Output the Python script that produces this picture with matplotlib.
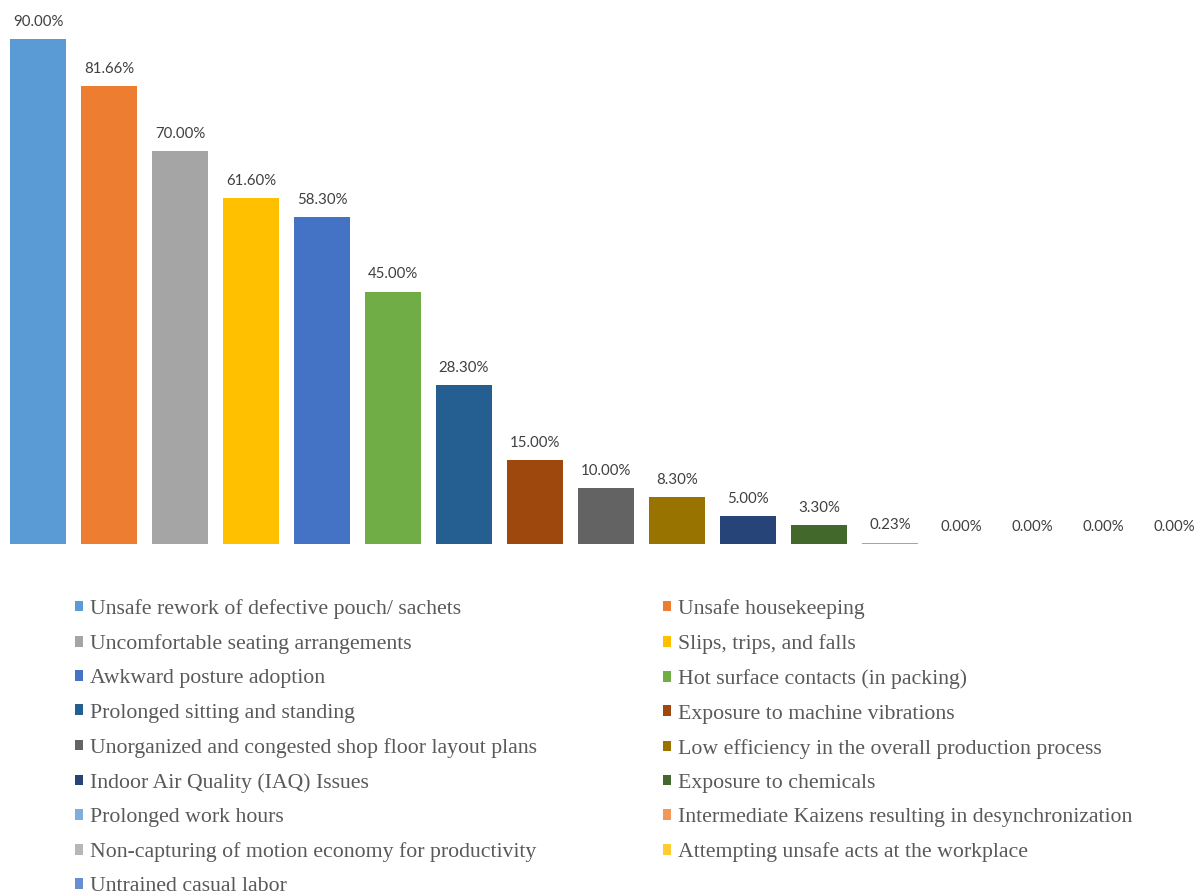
import numpy as np
import matplotlib.pyplot as plt
from matplotlib.patches import Patch

# data
hazards = [
    'Unsafe rework of defective pouch/ sachets',
    'Unsafe housekeeping',
    'Uncomfortable seating arrangements',
    'Slips, trips, and falls',
    'Awkward posture adoption',
    'Hot surface contacts (in packing)',
    'Prolonged sitting and standing',
    'Exposure to machine vibrations',
    'Unorganized and congested shop floor layout plans',
    'Low efficiency in the overall production process',
    'Indoor Air Quality (IAQ) Issues',
    'Exposure to chemicals',
    'Prolonged work hours',
    'Intermediate Kaizens resulting in desynchronization',
    'Non-capturing of motion economy for productivity',
    'Attempting unsafe acts at the workplace',
    'Untrained casual labor',
]
percent = [90.00, 81.66, 70.00, 61.60, 58.30, 45.00, 28.30, 15.00, 10.00,
           8.30, 5.00, 3.30, 0.23, 0.00, 0.00, 0.00, 0.00]
colors = ['#5B9BD5', '#ED7D31', '#A5A5A5', '#FFC000', '#4472C4', '#70AD47',
          '#255E91', '#9E480E', '#636363', '#997300', '#264478', '#43682B',
          '#7CAFDD', '#F1975A', '#B7B7B7', '#FFCD33', '#698ED0']

W, H = 1200, 893
fig = plt.figure(figsize=(W / 100, H / 100), dpi=100)

# plot area: baseline at y=544px, bars spaced 71px starting at x=38px
ax = fig.add_axes([0, (H - 544) / H, 1, 533 / H])
x = np.arange(len(percent))
ax.bar(x, percent, width=0.79, color=colors)
ax.set_xlim(-38 / 71, (W - 38) / 71)
ax.set_ylim(0, 533 / 5.611)
ax.axis('off')

for xi, v in zip(x, percent):
    ax.annotate('{:.2f}%'.format(v), (xi, v), xytext=(0, 12.4),
                textcoords='offset points', ha='center', va='center',
                fontsize=10.8, color='#404040', family='Lato')

# legend: Excel fills row-wise, so split into two columns
handles = [Patch(facecolor=c, edgecolor='none') for c in colors]
legend_kw = dict(loc='upper left', frameon=False, handlelength=0.37,
                 handleheight=0.37, handletextpad=0.32, labelspacing=0.7,
                 borderpad=0, borderaxespad=0, labelcolor='#595959',
                 prop={'family': 'Liberation Serif', 'size': 15.7})
leg1 = fig.legend(handles[0::2], hazards[0::2],
                  bbox_to_anchor=(75 / W, (H - 599) / H), **legend_kw)
leg2 = fig.legend(handles[1::2], hazards[1::2],
                  bbox_to_anchor=(663 / W, (H - 599) / H), **legend_kw)

fig.savefig('out.png', dpi=100, facecolor='white')
